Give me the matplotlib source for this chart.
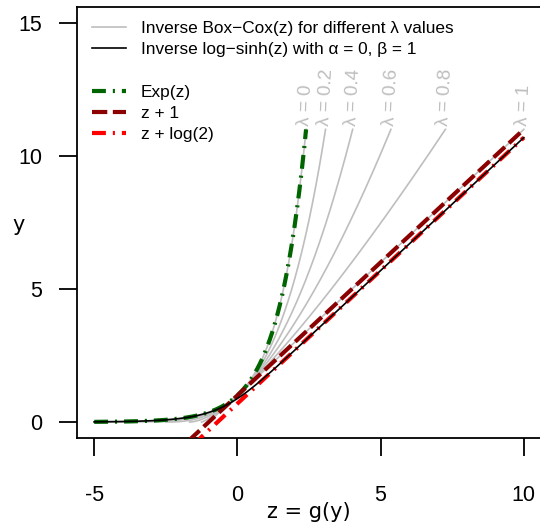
import numpy as np
import matplotlib
matplotlib.use('Agg')
import matplotlib.pyplot as plt
from matplotlib.lines import Line2D

plt.rcParams['axes.unicode_minus'] = False
plt.rcParams['lines.scale_dashes'] = False

# ---- data / parameters ----
lambdas = [0, 0.2, 0.4, 0.6, 0.8, 1]
lambda_labels = ['λ = 0', 'λ = 0.2', 'λ = 0.4', 'λ = 0.6', 'λ = 0.8', 'λ = 1']
y_cap = 11          # Box-Cox curves / Exp(z) drawn up to this y
z_min, z_max = -5, 10
alpha, beta = 0, 1
x_ticks = [-5, 0, 5, 10]
y_ticks = [0, 5, 10, 15]
legend_labels = ['Inverse Box\u2212Cox(z) for different λ values',
                 'Inverse log\u2212sinh(z) with α = 0, β = 1',
                 ' ',
                 'Exp(z)', 'z + 1', 'z + log(2)']

GRAY = '#BEBEBE'
DKGREEN = '#006400'
DKRED = '#8B0000'
RED = '#FF0000'
dotdash = (0, (10, 5, 1.5, 5))
longdash = (0, (11, 4))

def inv_boxcox(z, lam):
    if lam == 0:
        return np.exp(z)
    return (lam * z + 1) ** (1 / lam)

def boxcox(y, lam):
    if lam == 0:
        return np.log(y)
    return (y ** lam - 1) / lam

fig = plt.figure(figsize=(5.4, 5.25), dpi=100)
ax = fig.add_axes([77/540, (525-438)/525, (541-77)/540, (438-7)/525])

# gray inverse Box-Cox curves
for lam, lab in zip(lambdas, lambda_labels):
    z_end = boxcox(y_cap, lam)
    z_start = z_min if lam == 0 else max(z_min, -1/lam)
    z = np.linspace(z_start, z_end, 600)
    ax.plot(z, inv_boxcox(z, lam), color=GRAY, lw=1.2, zorder=2)
    ax.annotate(lab, xy=(z_end, y_cap), xytext=(0, 2.5), textcoords='offset points',
                rotation=87, ha='center', va='bottom', color=GRAY,
                fontsize=13.5, family='Liberation Sans')

# Exp(z)
z = np.linspace(z_min, boxcox(y_cap, 0), 600)
ax.plot(z, np.exp(z), color=DKGREEN, lw=3, linestyle=dotdash, zorder=3)
# z + 1
z = np.linspace(z_min, z_max, 600)
ax.plot(z, z + 1, color=DKRED, lw=3, linestyle=longdash, zorder=4)
# z + log(2)
ax.plot(z, z + np.log(2), color=RED, lw=3, linestyle=dotdash, zorder=5)
# inverse log-sinh
ax.plot(z, (np.arcsinh(np.exp(beta * z)) - alpha) / beta, color='black', lw=1.2, zorder=6)

ax.set_xlim(-5.6, 10.6)
ax.set_ylim(-0.6, 15.6)
ax.set_xticks(x_ticks)
ax.set_yticks(y_ticks)
ax.set_xticklabels([str(v) for v in x_ticks], family='Liberation Sans', fontsize=15.5)
ax.set_yticklabels([str(v) for v in y_ticks], family='Liberation Sans', fontsize=15.5)
ax.tick_params(axis='x', length=13, width=1.3, pad=21, direction='out')
ax.tick_params(axis='y', length=13, width=1.3, pad=12, direction='out')
for s in ax.spines.values():
    s.set_linewidth(1.3)

fig.text(309/540, 1 - 512/525, 'z = g(y)', ha='center', va='center',
         family='DejaVu Sans', fontsize=15)
fig.text(19/540, 1 - 225/525, 'y', ha='center', va='center',
         family='DejaVu Sans', fontsize=15)

handles = [Line2D([], [], color=GRAY, lw=1.2),
           Line2D([], [], color='black', lw=1.2),
           Line2D([], [], color='none'),
           Line2D([], [], color=DKGREEN, lw=3, linestyle=dotdash),
           Line2D([], [], color=DKRED, lw=3, linestyle=longdash),
           Line2D([], [], color=RED, lw=3, linestyle=dotdash)]
leg = fig.legend(handles, legend_labels, loc='upper left',
                 bbox_to_anchor=(92/540, 1 - 21/525), frameon=False,
                 borderpad=0, borderaxespad=0, handlelength=1.98,
                 handletextpad=0.87, labelspacing=0.36,
                 prop={'family': 'Liberation Sans', 'size': 12.4})

fig.savefig('out.png', dpi=100)
